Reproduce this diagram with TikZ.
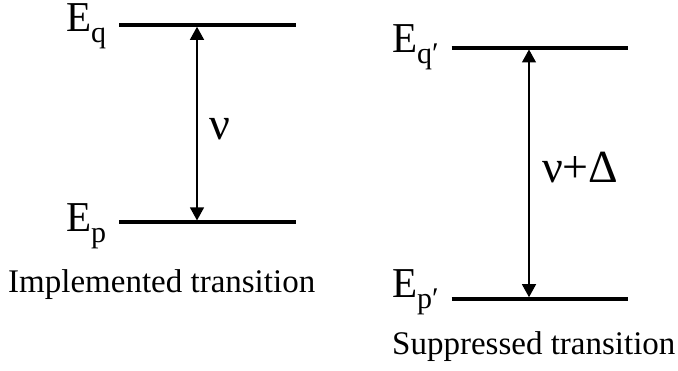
\documentclass[tikz,border=0pt]{standalone}
\usepackage{fontspec}
\setmainfont{Liberation Serif}
\usetikzlibrary{arrows.meta}
\begin{document}
\begin{tikzpicture}[x=1pt,y=-1pt,
  level/.style={line width=3.8pt},
  trans/.style={line width=1.3pt,{Triangle[width=14pt,length=13pt]}-{Triangle[width=14pt,length=13pt]}},
  elabel/.style={anchor=base west,inner sep=0pt,outer sep=0pt},
  caption/.style={anchor=base west,inner sep=0pt,font=\fontsize{33}{33}\selectfont},
  freq/.style={anchor=base west,inner sep=0pt}]
\useasboundingbox (0,0) rectangle (678,371);
\newcommand{\bigE}{\scalebox{1.08}[1.12]{\fontsize{38}{38}\selectfont E}}
\newcommand{\subl}[1]{\raisebox{-11pt}{\fontsize{30}{30}\selectfont #1}}
% left levels
\coordinate (q1) at (119.3,25);
\coordinate (q2) at (296,25);
\coordinate (p1) at (119.3,222.3);
\coordinate (p2) at (296,222.3);
\draw[level] (q1) -- (q2);
\draw[level] (p1) -- (p2);
\coordinate (at) at (197,26.8);
\coordinate (ab) at (197,220.4);
\draw[trans] (at) -- (ab);
\node[elabel] (Eq) at (66,32) {\bigE\subl{q}};
\node[elabel] (Ep) at (66,232) {\bigE\subl{p}};
\node[freq] (nu) at (209,140) {\fontsize{46}{46}\selectfont ν};
\node[caption] (cap1) at (8,293) {Implemented transition};
% right levels
\coordinate (qq1) at (451.7,47.7);
\coordinate (qq2) at (628.3,47.7);
\coordinate (pp1) at (451.7,299);
\coordinate (pp2) at (628.3,299);
\draw[level] (qq1) -- (qq2);
\draw[level] (pp1) -- (pp2);
\coordinate (bt) at (529,49.5);
\coordinate (bb) at (529,297.2);
\draw[trans] (bt) -- (bb);
\node[elabel] (Eqq) at (392,53) {\bigE\subl{q′}};
\node[elabel] (Epp) at (392,298) {\bigE\subl{p′}};
\node[freq] (nud) at (542,183) {\fontsize{46}{46}\selectfont ν+Δ};
\node[caption] (cap2) at (392,355) {Suppressed transition};
\end{tikzpicture}
\end{document}
